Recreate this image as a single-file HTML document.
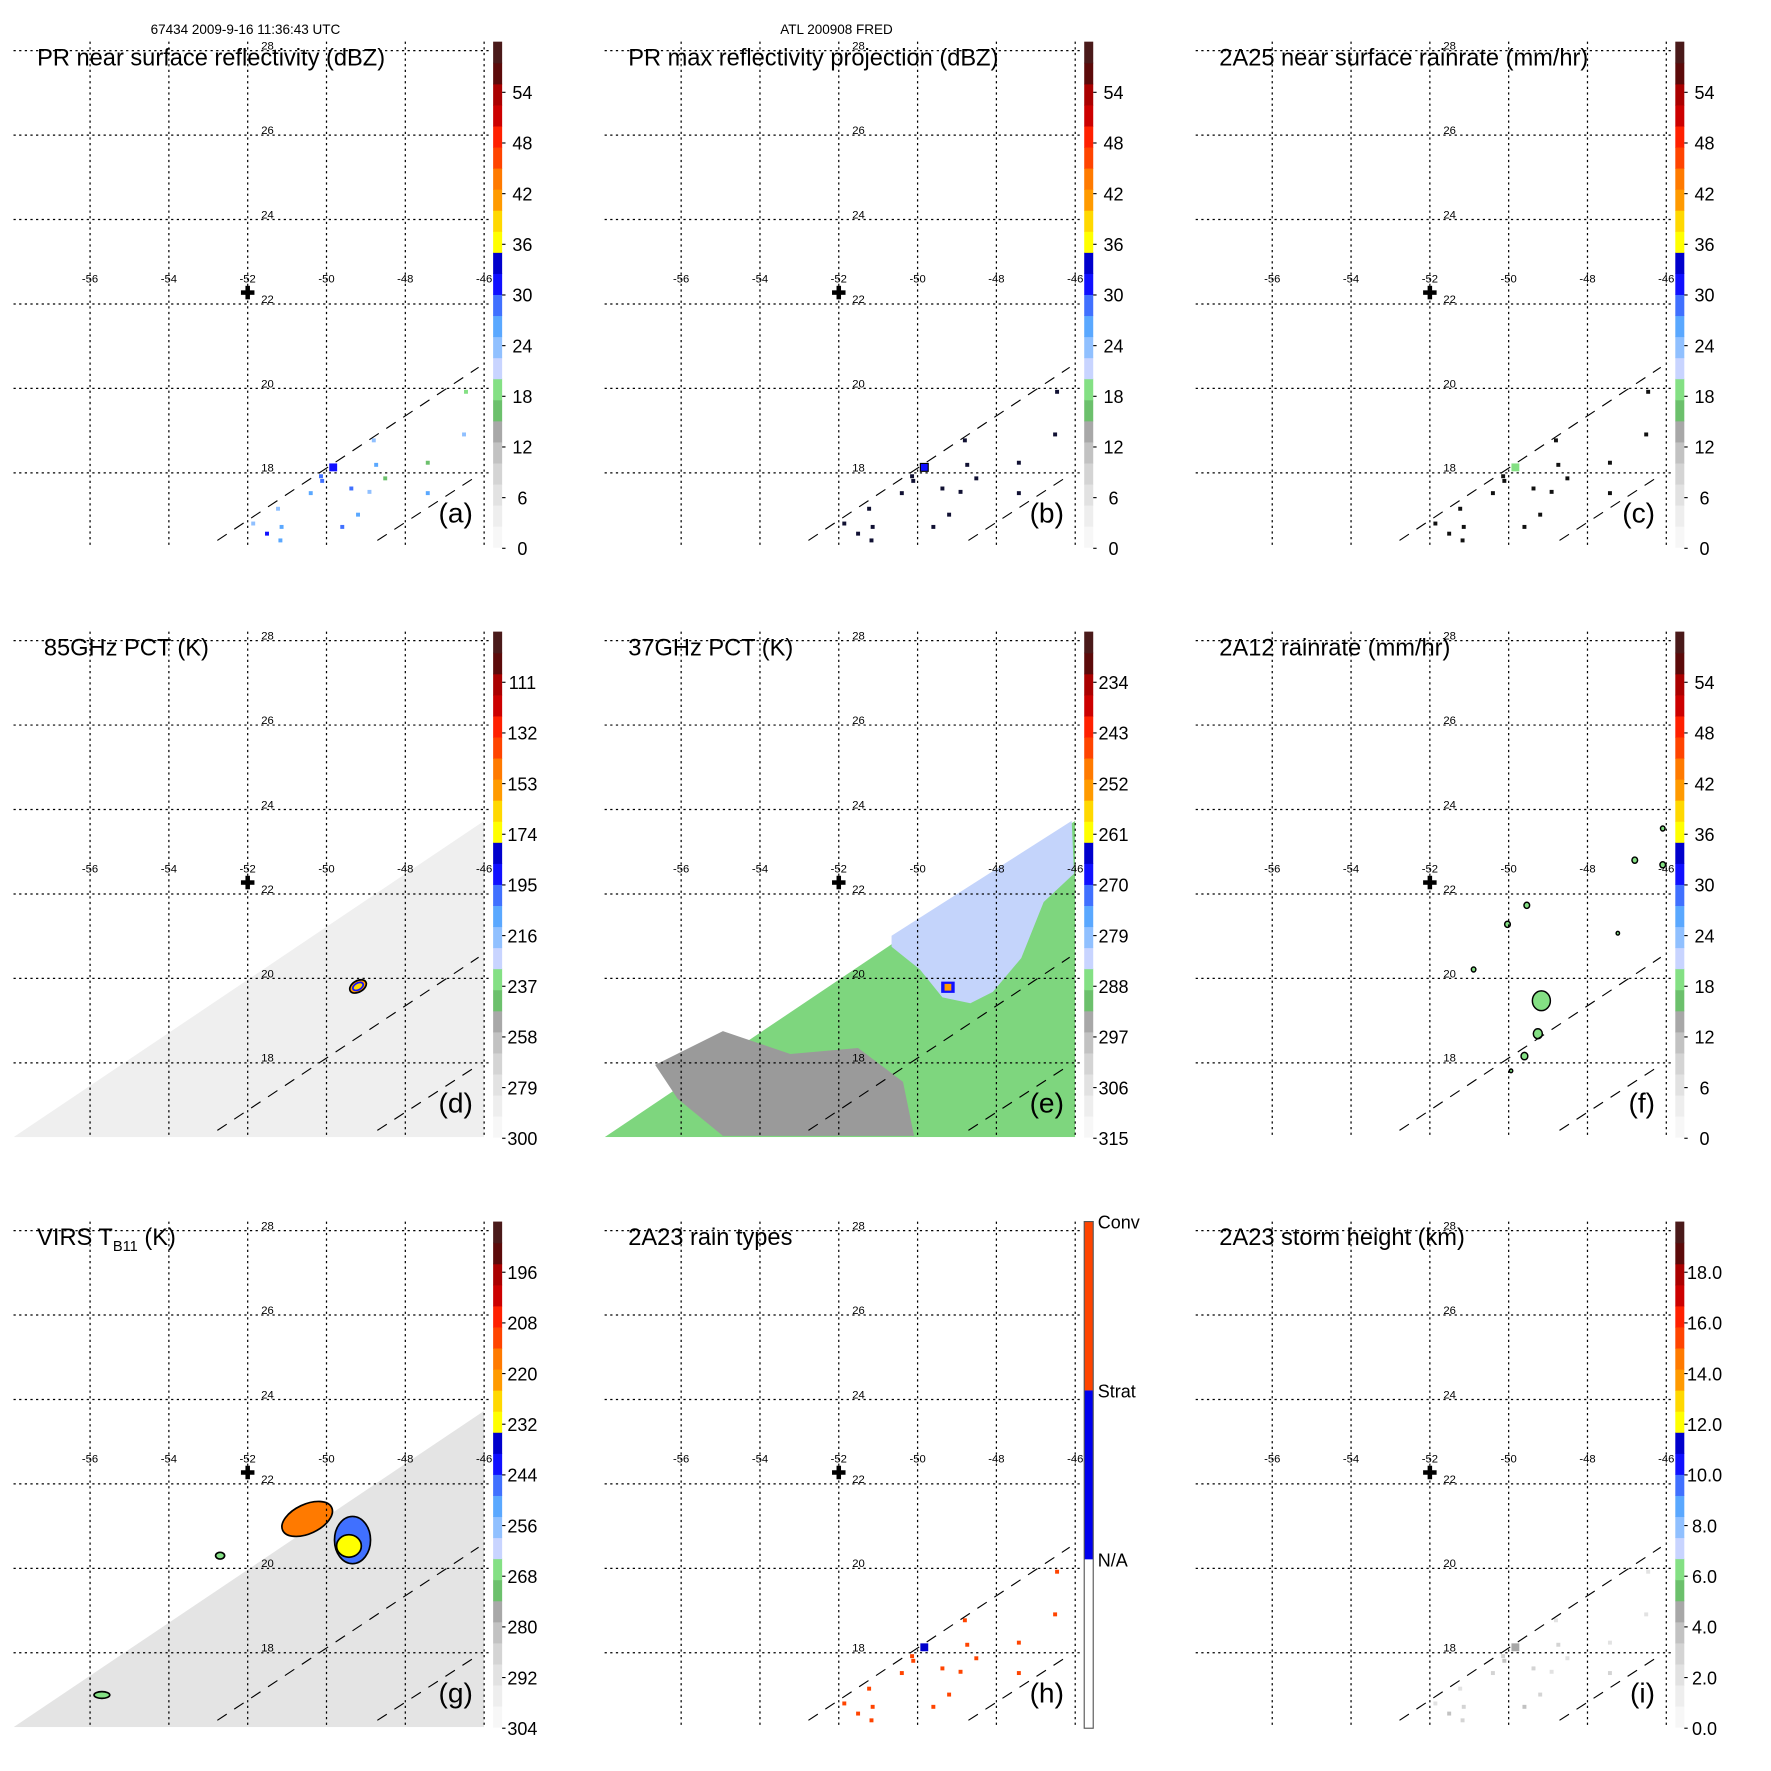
<!DOCTYPE html>
<html><head><meta charset="utf-8"><style>
html,body{margin:0;padding:0;background:#fff;}
svg{display:block;font-family:"Liberation Sans",Arial,sans-serif;}
</style></head><body>
<svg id="fig" width="1771" height="1771" viewBox="0 0 1573 1573" xmlns="http://www.w3.org/2000/svg">
<text x="218" y="30" font-size="12" text-anchor="middle">67434 2009-9-16 11:36:43 UTC</text>
<text x="743" y="30" font-size="12" text-anchor="middle">ATL 200908 FRED</text>
</svg>
<script>
const NS='http://www.w3.org/2000/svg';
const svg=document.getElementById('fig');
const lonTicks=[-56,-54,-52,-50,-48,-46];
const latTicks=[28,26,24,22,20,18];
const panelTitles=['PR near surface reflectivity (dBZ)','PR max reflectivity projection (dBZ)','2A25 near surface rainrate (mm/hr)','85GHz PCT (K)','37GHz PCT (K)','2A12 rainrate (mm/hr)','VIRS T','2A23 rain types','2A23 storm height (km)'];
const panelLetters=['(a)','(b)','(c)','(d)','(e)','(f)','(g)','(h)','(i)'];
const tickA=['54','48','42','36','30','24','18','12','6','0'];
const tickD=['111','132','153','174','195','216','237','258','279','300'];
const tickE=['234','243','252','261','270','279','288','297','306','315'];
const tickG=['196','208','220','232','244','256','268','280','292','304'];
const tickI=['18.0','16.0','14.0','12.0','10.0','8.0','6.0','4.0','2.0','0.0'];
const barRange=[[0,60],[0,60],[0,60],[300,90],[315,225],[0,60],[304,184],[0,1],[0,20]];
const cmap=['#f7f7f7','#eeeeee','#e2e2e2','#d4d4d4','#c2c2c2','#a8a8a8','#6cc06c','#84e084','#c8d4ff','#90c0ff','#5aa8ff','#4070ff','#1010ff','#0000cc','#ffff00','#ffd800','#ff9a00','#ff7a00','#ff4400','#ff2000','#cc0000','#aa0000','#5c0a0a','#4a1a1a'];
// PR pixel locations (lon, lat) and values
const prLon=[-49.83,-50.11,-50.14,-50.4,-51.51,-51.14,-51.86,-51.23,-49.37,-49.2,-49.6,-48.8,-48.74,-48.51,-47.43,-47.43,-46.51,-46.46,-48.91,-51.17];
const prLat=[18.13,17.81,17.92,17.52,16.56,16.72,16.8,17.15,17.63,17.01,16.72,18.77,18.19,17.87,18.24,17.52,18.91,19.92,17.55,16.4];
const prRefl=[31,29,28,26,30,25,24,23,28,27,29,23,26,17,17,25,24,18,23,25];
const prMax=[33,32,32,31,33,31,30,30,32,32,33,30,31,30,30,31,30,30,30,31];
const prType=[1,1,2,2,1,2,2,2,2,2,1,2,2,2,2,2,2,2,2,2];
const prHeight=[4.5,3.5,3,2.5,4,2.5,2,2,3,3,3.5,2,2.5,2,2,2.5,2,2,2,2.5];
// swath edge and scene polygons (lon, lat)
const swathLon=[-57.94,-46,-46];
const swathLat=[16.24,23.73,16.24];
const e37BlueLon=[-50.66,-46.09,-46.03,-46.8,-47.37,-48.09,-48.66,-49.37,-49.94,-50.66];
const e37BlueLat=[21.01,23.73,22.48,21.81,20.48,19.68,19.41,19.55,20.21,20.75];
const e37GrayLon=[-56.66,-54.94,-53.23,-51.51,-50.37,-50.09,-54.94,-56.09];
const e37GrayLat=[17.95,18.75,18.21,18.35,17.55,16.27,16.27,17.15];
const f12Lon=[-49.17,-49.26,-49.6,-50.03,-49.54,-50.89,-46.8,-46.09,-46.09,-47.23,-49.94];
const f12Lat=[19.47,18.69,18.16,21.28,21.73,20.21,22.8,22.69,23.55,21.07,17.81];
const f12Size=[8,4,3,2.5,2.5,2,2.5,2.5,2,1.5,1.5];
const gBlobLon=[-50.49,-49.34,-49.43,-52.7,-55.7];
const gBlobLat=[21.17,20.67,20.53,20.3,17.0];
const gBlobVal=[216,246,230,268,268];
const gBlobRx=[24,16,11,4,7];
const gBlobRy=[13,21,10,3,3];

function el(tag,attrs,parent){const e=document.createElementNS(NS,tag);for(const k in attrs)e.setAttribute(k,attrs[k]);(parent||svg).appendChild(e);return e;}
const X=(lon)=>80+(lon+56)*35;
const Y=(lat)=>45+(28-lat)*37.5;
function colorFor(p,v){const r=barRange[p];let t=(v-r[0])/(r[1]-r[0]);let i=Math.floor(t*24);i=Math.max(0,Math.min(23,i));return cmap[i];}
function poly(g,lons,lats,fill,name){const pts=lons.map((l,i)=>X(l)+','+Y(lats[i])).join(' ');const p=el('polygon',{points:pts,fill:fill},g);return p;}

for(let p=0;p<9;p++){
  const col=p%3,row=Math.floor(p/3);
  const g=el('g',{transform:`translate(${col*525},${row*524})`});
  
  
  const clipId='clip'+p;
  const cp=el('clipPath',{id:clipId},g);el('rect',{x:12,y:37,width:418,height:449},cp);
  const data=el('g',{'clip-path':`url(#${clipId})`},g);
  
  
  if(p===3){poly(data,swathLon,swathLat,'#efefef','swath-85ghz');}
  if(p===4){poly(data,swathLon,swathLat,'#7ed67e','swath-37ghz');poly(data,e37GrayLon,e37GrayLat,'#9a9a9a','warm-region');poly(data,e37BlueLon,e37BlueLat,'#c4d4fb','cold-region');}
  if(p===6){poly(data,swathLon,swathLat,'#e4e4e4','swath-virs');}
  lonTicks.forEach(l=>{const ln=el('line',{x1:X(l),y1:37,x2:X(l),y2:486,stroke:'#000','stroke-width':1.1,'stroke-dasharray':'2,3'},g);});
  latTicks.forEach(l=>{const ln=el('line',{x1:12,y1:Y(l),x2:436,y2:Y(l),stroke:'#000','stroke-width':1.1,'stroke-dasharray':'2,3'},g);});
  if(p===3){
    const e1=el('ellipse',{cx:X(-49.2),cy:Y(19.81),rx:8,ry:5,fill:'#ff9a00',stroke:'#000','stroke-width':1.5,transform:`rotate(-30 ${X(-49.2)} ${Y(19.81)})`},data);
    
    const e2=el('ellipse',{cx:X(-49.2),cy:Y(19.81),rx:5,ry:3,fill:'#ffd800',stroke:'#1010ff','stroke-width':1.5,transform:`rotate(-30 ${X(-49.2)} ${Y(19.81)})`},data);
    
  }
  if(p===4){
    const r=el('rect',{x:X(-49.23)-6,y:Y(19.79)-5,width:12,height:10,fill:'#1010ff'},data);
    
    const r2=el('rect',{x:X(-49.23)-3,y:Y(19.79)-3,width:6,height:6,fill:'#ff9a00'},data);
    
  }
  if(p===5){
    f12Lon.forEach((l,i)=>{const c=el('ellipse',{cx:X(l),cy:Y(f12Lat[i]),rx:f12Size[i],ry:f12Size[i]*1.1,fill:'#84e084',stroke:'#000','stroke-width':1.3},data);});
  }
  if(p===6){
    gBlobLon.forEach((l,i)=>{const c=el('ellipse',{cx:X(l),cy:Y(gBlobLat[i]),rx:gBlobRx[i],ry:gBlobRy[i],fill:colorFor(6,gBlobVal[i]),stroke:'#000','stroke-width':1.5,transform:`rotate(${i===0?-25:0} ${X(l)} ${Y(gBlobLat[i])})`},data);});
  }
  if([0,1,2,7,8].includes(p)){
    prLon.forEach((l,i)=>{
      let fill;
      if(p===0){fill=colorFor(0,prRefl[i]);}
      else if(p===1){fill=i===0?'#1010ff':'#111133';}
      else if(p===2){fill=i===0?'#84e084':'#111';}
      else if(p===7){fill=prType[i]===1&&i===0?'#0000cc':'#ff4400';}
      else {fill=colorFor(8,prHeight[i]);}
      const s=i===0?7:3.5;
      const r=el('rect',{x:X(l)-s/2,y:Y(prLat[i])-s/2,width:s,height:s,fill:fill,stroke:p===1&&i===0?'#000':'none'},data);
      
      
    });
  }
  const d1=el('line',{x1:X(-52.77),y1:Y(16.4),x2:X(-46.14),y2:Y(20.5),stroke:'#000','stroke-width':1,'stroke-dasharray':'10,8'},g);
  
  const d2=el('line',{x1:X(-48.71),y1:Y(16.4),x2:X(-46.14),y2:Y(17.95),stroke:'#000','stroke-width':1,'stroke-dasharray':'10,8'},g);
  
  lonTicks.forEach(l=>{const t=el('text',{x:X(l),y:251,'font-size':10,'text-anchor':'middle'},g);t.textContent=String(l);});
  latTicks.forEach(l=>{const t=el('text',{x:232,y:Y(l)-1,'font-size':10},g);t.textContent=String(l);});
  const cx=X(-52),cy=Y(22.27);
  const c1=el('rect',{x:cx-6,y:cy-2,width:12,height:4,fill:'#000'},g);
  const c2=el('rect',{x:cx-2,y:cy-6,width:4,height:12,fill:'#000'},g);
  const tt=el('text',{x:p===3?39:33,y:58,'font-size':21},g);
  
  if(p===6){tt.textContent='VIRS T';const s=el('tspan',{'font-size':13,dy:5},tt);s.textContent='B11';const s2=el('tspan',{dy:-5},tt);s2.textContent=' (K)';}
  else tt.textContent=panelTitles[p];
  const lt=el('text',{x:420,y:464,'font-size':25,'text-anchor':'end'},g);lt.textContent=panelLetters[p];
  
  const cb=el('g',{},g);
  if(p===7){
    el('rect',{x:438,y:37,width:8,height:150,fill:'#ff4400'},cb);
    el('rect',{x:438,y:187,width:8,height:150,fill:'#0000ee'},cb);
    el('rect',{x:438,y:37,width:8,height:450,fill:'none',stroke:'#555','stroke-width':1},cb);
    [['Conv',39],['Strat',189],['N/A',339]].forEach(a=>{const t=el('text',{x:450,y:a[1],'font-size':16,'dominant-baseline':'middle'},cb);t.textContent=a[0];});
  } else {
    const h=449/24;
    for(let i=0;i<24;i++){el('rect',{x:438,y:486-(i+1)*h,width:8,height:h+0.5,fill:cmap[i]},cb);}
    const ticks=[tickA,tickA,tickA,tickD,tickE,tickA,tickG,null,tickI][p];
    ticks.forEach((s,i)=>{const y=82+i*45;el('line',{x1:446,y1:y,x2:449,y2:y,stroke:'#000'},cb);const t=el('text',{x:464,y:y+6,'font-size':16,'text-anchor':'middle'},cb);t.textContent=s;});
  }
}
</script>
</body></html>
